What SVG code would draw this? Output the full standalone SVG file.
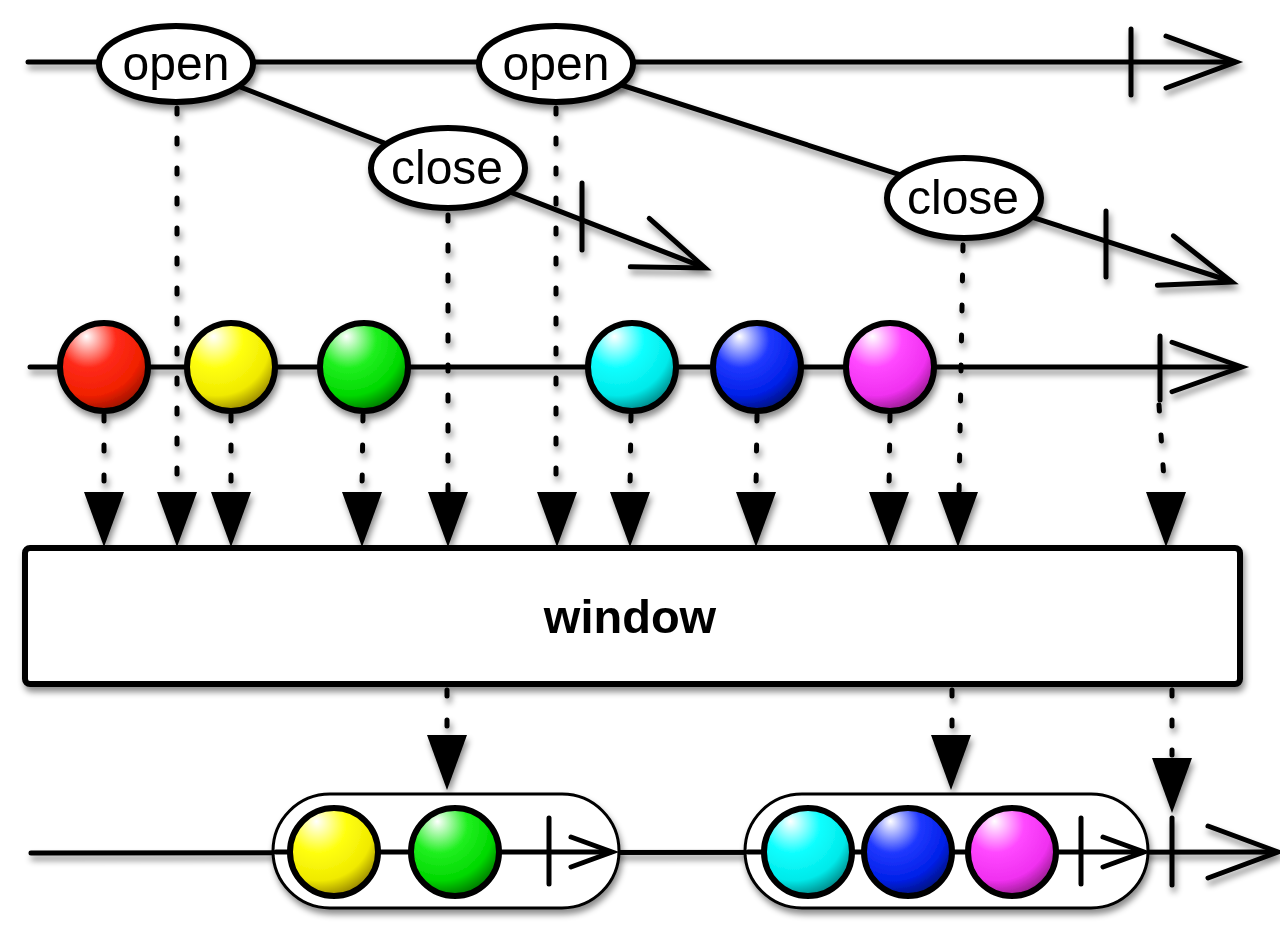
<svg xmlns="http://www.w3.org/2000/svg" width="1280" height="930" viewBox="0 0 1280 930">
<defs>
<filter id="sh" x="-20%" y="-20%" width="140%" height="160%">
<feDropShadow dx="2" dy="5" stdDeviation="3" flood-color="#000" flood-opacity="0.45"/>
</filter>
<radialGradient id="gRed" cx="0.35" cy="0.25" r="0.8" fx="0.3" fy="0.15"><stop offset="0" stop-color="#ffffff"/><stop offset="0.4" stop-color="#ff2a1a"/><stop offset="0.75" stop-color="#f02000"/><stop offset="1" stop-color="#901000"/></radialGradient>
<radialGradient id="gYel" cx="0.35" cy="0.25" r="0.8" fx="0.3" fy="0.15"><stop offset="0" stop-color="#ffffff"/><stop offset="0.4" stop-color="#ffff10"/><stop offset="0.75" stop-color="#f0ea00"/><stop offset="1" stop-color="#8c7a00"/></radialGradient>
<radialGradient id="gGrn" cx="0.35" cy="0.25" r="0.8" fx="0.3" fy="0.15"><stop offset="0" stop-color="#ffffff"/><stop offset="0.4" stop-color="#20f020"/><stop offset="0.75" stop-color="#00d800"/><stop offset="1" stop-color="#006a00"/></radialGradient>
<radialGradient id="gCyn" cx="0.35" cy="0.25" r="0.8" fx="0.3" fy="0.15"><stop offset="0" stop-color="#ffffff"/><stop offset="0.4" stop-color="#10ffff"/><stop offset="0.75" stop-color="#00eaea"/><stop offset="1" stop-color="#007a7a"/></radialGradient>
<radialGradient id="gBlu" cx="0.35" cy="0.25" r="0.8" fx="0.3" fy="0.15"><stop offset="0" stop-color="#ffffff"/><stop offset="0.4" stop-color="#2038ff"/><stop offset="0.75" stop-color="#0020e8"/><stop offset="1" stop-color="#001070"/></radialGradient>
<radialGradient id="gMag" cx="0.35" cy="0.25" r="0.8" fx="0.3" fy="0.15"><stop offset="0" stop-color="#ffffff"/><stop offset="0.4" stop-color="#ff48ff"/><stop offset="0.75" stop-color="#f030f0"/><stop offset="1" stop-color="#8a1a80"/></radialGradient>
<path id="ah" d="M-70,-26 L0,0 L-70,26"/>
<path id="ahs" d="M-41,-15 L0,0 L-41,15"/>
<path id="tri" d="M-20,0 L20,0 L0,55 Z"/>
</defs>
<style>
.ln{stroke:#000;stroke-width:5;fill:none;stroke-linecap:round}
.ar{stroke:#000;stroke-width:5;fill:none;stroke-linecap:round;stroke-linejoin:miter}
.dot{stroke:#000;stroke-width:5;fill:none;stroke-linecap:round;stroke-dasharray:6 24}
.tri{fill:#000}
.ev{fill:#fff;stroke:#000;stroke-width:6}
.mb{stroke:#000;stroke-width:6}
.lbl{font-family:"Liberation Sans",Arial,sans-serif;font-size:48px;fill:#000;text-anchor:middle}
.win{fill:#fff;stroke:#000;stroke-width:3}
</style>

<g id="connectors" filter="url(#sh)">
<line class="ln" x1="28" y1="62" x2="1234" y2="62"/>
<line class="ln" x1="1131" y1="29" x2="1131" y2="95"/>
<use href="#ah" class="ar" transform="translate(1236,62)"/>
<line class="ln" x1="176" y1="62" x2="703" y2="267"/>
<line class="ln" x1="582" y1="183" x2="582" y2="250"/>
<use href="#ah" class="ar" transform="translate(705,268) rotate(21.3)"/>
<line class="ln" x1="556" y1="64" x2="1230" y2="281"/>
<line class="ln" x1="1106" y1="211" x2="1106" y2="277"/>
<use href="#ah" class="ar" transform="translate(1232,282) rotate(17.85)"/>
<line class="ln" x1="30" y1="367" x2="1240" y2="367"/>
<line class="ln" x1="1160" y1="336" x2="1160" y2="400"/>
<use href="#ah" class="ar" transform="translate(1242,367) scale(1,0.95)"/>
<line class="dot" x1="177" y1="108" x2="177" y2="495"/>
<line class="dot" x1="448" y1="215" x2="448" y2="495"/>
<line class="dot" x1="556" y1="108" x2="556" y2="495"/>
<line class="dot" x1="963" y1="245" x2="959" y2="495"/>
<line class="dot" x1="1159" y1="405" x2="1165" y2="495"/>
<line class="dot" x1="104" y1="415" x2="104" y2="490"/>
<line class="dot" x1="231" y1="415" x2="231" y2="490"/>
<line class="dot" x1="363" y1="415" x2="362" y2="490"/>
<line class="dot" x1="631" y1="415" x2="630" y2="490"/>
<line class="dot" x1="757" y1="415" x2="756" y2="490"/>
<line class="dot" x1="890" y1="415" x2="889" y2="490"/>
<use href="#tri" class="tri" transform="translate(104,492)"/>
<use href="#tri" class="tri" transform="translate(177,492)"/>
<use href="#tri" class="tri" transform="translate(231,492)"/>
<use href="#tri" class="tri" transform="translate(362,492)"/>
<use href="#tri" class="tri" transform="translate(448,492)"/>
<use href="#tri" class="tri" transform="translate(557,492)"/>
<use href="#tri" class="tri" transform="translate(630,492)"/>
<use href="#tri" class="tri" transform="translate(756,492)"/>
<use href="#tri" class="tri" transform="translate(889,492)"/>
<use href="#tri" class="tri" transform="translate(958,492)"/>
<use href="#tri" class="tri" transform="translate(1166,492)"/>
<line class="dot" x1="447" y1="690" x2="447" y2="733"/>
<line class="dot" x1="952" y1="690" x2="952" y2="733"/>
<line class="dot" x1="1172" y1="690" x2="1172" y2="755"/>
<use href="#tri" class="tri" transform="translate(447,735)"/>
<use href="#tri" class="tri" transform="translate(951,735)"/>
<use href="#tri" class="tri" transform="translate(1172,758)"/>
<line class="ln" x1="31" y1="853" x2="1276" y2="852"/>
<line class="ln" x1="1172" y1="818" x2="1172" y2="885"/>
<use href="#ah" class="ar" transform="translate(1278,852)"/>
</g>

<g id="open1" filter="url(#sh)">
<ellipse class="ev" cx="176" cy="64" rx="77" ry="38"/>
<text class="lbl" x="176" y="80">open</text>
</g>
<g id="open2" filter="url(#sh)">
<ellipse class="ev" cx="556" cy="64" rx="77" ry="38"/>
<text class="lbl" x="556" y="80">open</text>
</g>
<g id="close1" filter="url(#sh)">
<ellipse class="ev" cx="448" cy="168" rx="77" ry="40"/>
<text class="lbl" x="447" y="184">close</text>
</g>
<g id="close2" filter="url(#sh)">
<ellipse class="ev" cx="964" cy="198" rx="77" ry="40"/>
<text class="lbl" x="963" y="214">close</text>
</g>

<g id="m-red" filter="url(#sh)"><circle class="mb" cx="104" cy="367" r="44" fill="url(#gRed)"/></g>
<g id="m-yellow" filter="url(#sh)"><circle class="mb" cx="231" cy="367" r="44" fill="url(#gYel)"/></g>
<g id="m-green" filter="url(#sh)"><circle class="mb" cx="364" cy="367" r="44" fill="url(#gGrn)"/></g>
<g id="m-cyan" filter="url(#sh)"><circle class="mb" cx="632" cy="367" r="44" fill="url(#gCyn)"/></g>
<g id="m-blue" filter="url(#sh)"><circle class="mb" cx="757" cy="367" r="44" fill="url(#gBlu)"/></g>
<g id="m-magenta" filter="url(#sh)"><circle class="mb" cx="890" cy="367" r="44" fill="url(#gMag)"/></g>

<g id="window-op" filter="url(#sh)">
<rect x="25" y="548" width="1215" height="136" rx="5" fill="#fff" stroke="#000" stroke-width="6"/>
<text x="630" y="633" font-family="'Liberation Sans',Arial,sans-serif" font-size="47" font-weight="bold" text-anchor="middle">window</text>
</g>

<g id="window1" filter="url(#sh)">
<rect class="win" x="273" y="794" width="346" height="114" rx="57"/>
<line class="ln" x1="276" y1="852" x2="610" y2="852"/>
<line class="ln" x1="549" y1="818" x2="549" y2="884"/>
<use href="#ahs" class="ar" transform="translate(612,852)"/>
<circle class="mb" cx="334" cy="852" r="44" fill="url(#gYel)"/>
<circle class="mb" cx="455" cy="852" r="44" fill="url(#gGrn)"/>
</g>

<g id="window2" filter="url(#sh)">
<rect class="win" x="745" y="794" width="403" height="114" rx="57"/>
<line class="ln" x1="748" y1="852" x2="1142" y2="852"/>
<line class="ln" x1="1081" y1="818" x2="1081" y2="884"/>
<use href="#ahs" class="ar" transform="translate(1144,852)"/>
<circle class="mb" cx="808" cy="852" r="44" fill="url(#gCyn)"/>
<circle class="mb" cx="908" cy="852" r="44" fill="url(#gBlu)"/>
<circle class="mb" cx="1012" cy="852" r="44" fill="url(#gMag)"/>
</g>
</svg>
